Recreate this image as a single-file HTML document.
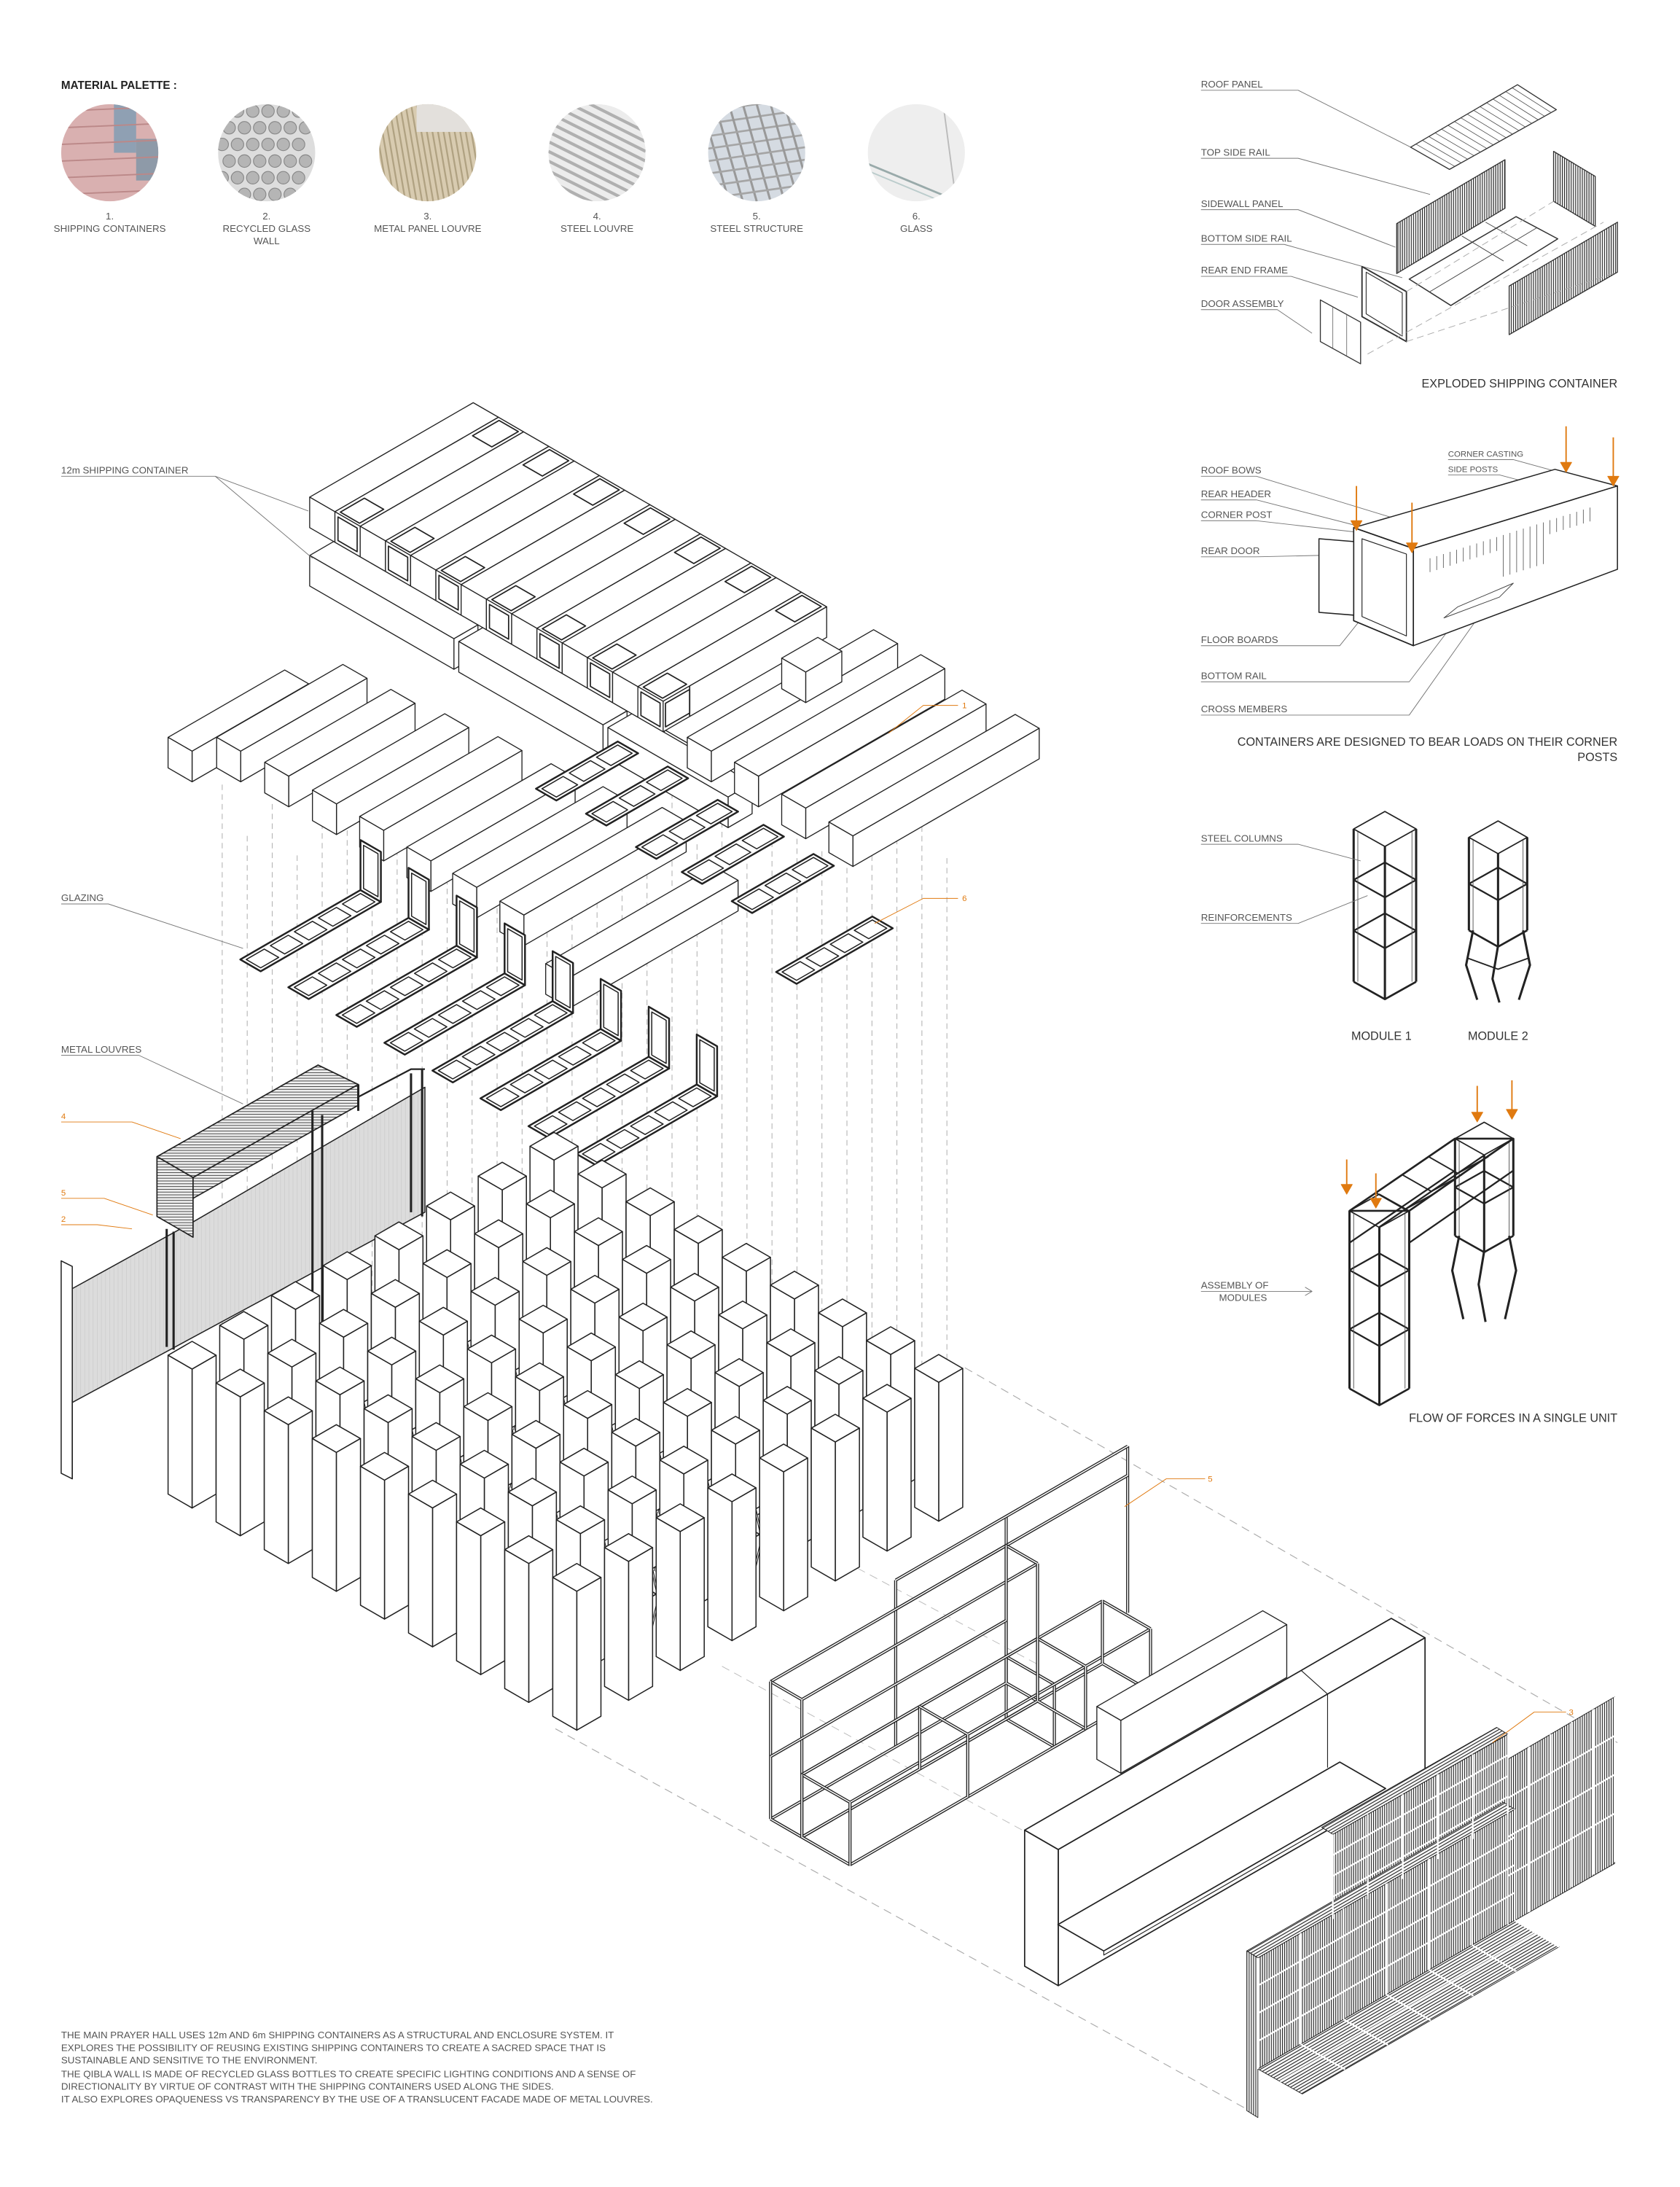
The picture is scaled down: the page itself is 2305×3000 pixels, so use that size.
<!DOCTYPE html>
<html><head><meta charset="utf-8">
<style>
html,body{margin:0;padding:0;background:#fff;}
svg{display:block;}
text{font-family:"Liberation Sans Narrow","Liberation Sans",sans-serif;fill:#555;font-size:7px;}
.t{font-size:8.5px;fill:#333;}
.o{fill:#e07a10;}
</style></head><body>
<svg id="s" xmlns="http://www.w3.org/2000/svg" width="2305" height="3000" viewBox="0 0 1210 1575">
<defs>
<pattern id="vl" width="1.6" height="4" patternUnits="userSpaceOnUse"><rect width="1.6" height="4" fill="#fff"/><line x1="0.5" y1="0" x2="0.5" y2="4" stroke="#222" stroke-width="0.6"/></pattern>
<pattern id="dl" width="2" height="2" patternUnits="userSpaceOnUse" patternTransform="rotate(-30)"><rect width="2" height="2" fill="#fff"/><line x1="0" y1="0.5" x2="2" y2="0.5" stroke="#222" stroke-width="0.6"/></pattern>
<pattern id="hl" width="4" height="2" patternUnits="userSpaceOnUse"><rect width="4" height="2" fill="#eee"/><line x1="0" y1="0.5" x2="4" y2="0.5" stroke="#444" stroke-width="0.5"/></pattern>
<pattern id="gl" width="3" height="8" patternUnits="userSpaceOnUse"><rect width="3" height="8" fill="#dcdcdc"/><line x1="1" y1="0" x2="1" y2="8" stroke="#ccc" stroke-width="0.4"/></pattern>
<clipPath id="c1"><circle cx="79" cy="110" r="35"/></clipPath>
<clipPath id="c2"><circle cx="192" cy="110" r="35"/></clipPath>
<clipPath id="c3"><circle cx="308" cy="110" r="35"/></clipPath>
<clipPath id="c4"><circle cx="430" cy="110" r="35"/></clipPath>
<clipPath id="c5"><circle cx="545" cy="110" r="35"/></clipPath>
<clipPath id="c6"><circle cx="660" cy="110" r="35"/></clipPath>
</defs>
<rect width="1210" height="1575" fill="#fff"/>
<g id="pal"></g>
<g id="g"></g>

<text x="44" y="64" style="font-weight:bold;fill:#222;font-size:8px">MATERIAL PALETTE :</text>
<g text-anchor="middle">
<text x="79" y="158">1.</text><text x="79" y="167">SHIPPING CONTAINERS</text>
<text x="192" y="158">2.</text><text x="192" y="167">RECYCLED GLASS</text><text x="192" y="176">WALL</text>
<text x="308" y="158">3.</text><text x="308" y="167">METAL PANEL LOUVRE</text>
<text x="430" y="158">4.</text><text x="430" y="167">STEEL LOUVRE</text>
<text x="545" y="158">5.</text><text x="545" y="167">STEEL STRUCTURE</text>
<text x="660" y="158">6.</text><text x="660" y="167">GLASS</text>
</g>

<text x="865" y="63">ROOF PANEL</text>
<text x="865" y="112">TOP SIDE RAIL</text>
<text x="865" y="149">SIDEWALL PANEL</text>
<text x="865" y="174">BOTTOM SIDE RAIL</text>
<text x="865" y="197">REAR END FRAME</text>
<text x="865" y="221">DOOR ASSEMBLY</text>
<text class="t" x="1165" y="279" text-anchor="end">EXPLODED SHIPPING CONTAINER</text>

<text x="1043" y="329" style="font-size:6px">CORNER CASTING</text>
<text x="1043" y="340" style="font-size:6px">SIDE POSTS</text>
<text x="865" y="341">ROOF BOWS</text>
<text x="865" y="358">REAR HEADER</text>
<text x="865" y="373">CORNER POST</text>
<text x="865" y="399">REAR DOOR</text>
<text x="865" y="463">FLOOR BOARDS</text>
<text x="865" y="489">BOTTOM RAIL</text>
<text x="865" y="513">CROSS MEMBERS</text>
<text class="t" x="1165" y="537" text-anchor="end">CONTAINERS ARE DESIGNED TO BEAR LOADS ON THEIR CORNER</text>
<text class="t" x="1165" y="548" text-anchor="end">POSTS</text>

<text x="865" y="606">STEEL COLUMNS</text>
<text x="865" y="663">REINFORCEMENTS</text>
<text class="t" x="995" y="749" text-anchor="middle">MODULE 1</text>
<text class="t" x="1079" y="749" text-anchor="middle">MODULE 2</text>
<text x="865" y="928">ASSEMBLY OF</text>
<text x="878" y="937">MODULES</text>
<text class="t" x="1165" y="1024" text-anchor="end">FLOW OF FORCES IN A SINGLE UNIT</text>

<text x="44" y="341">12m SHIPPING CONTAINER</text>
<text x="44" y="649">GLAZING</text>
<text x="44" y="758">METAL LOUVRES</text>
<text class="o" x="44" y="806" style="font-size:6px">4</text>
<text class="o" x="44" y="861" style="font-size:6px">5</text>
<text class="o" x="44" y="880" style="font-size:6px">2</text>
<text class="o" x="693" y="510" style="font-size:6px">1</text>
<text class="o" x="693" y="649" style="font-size:6px">6</text>
<text class="o" x="870" y="1067" style="font-size:6px">5</text>
<text class="o" x="1130" y="1235" style="font-size:6px">3</text>

<g style="font-size:6.6px">
<text x="44" y="1468">THE MAIN PRAYER HALL USES 12m AND 6m SHIPPING CONTAINERS AS A STRUCTURAL AND ENCLOSURE SYSTEM. IT</text>
<text x="44" y="1477">EXPLORES THE POSSIBILITY OF REUSING EXISTING SHIPPING CONTAINERS TO CREATE A SACRED SPACE THAT IS</text>
<text x="44" y="1486">SUSTAINABLE AND SENSITIVE TO THE ENVIRONMENT.</text>
<text x="44" y="1496">THE QIBLA WALL IS MADE OF RECYCLED GLASS BOTTLES TO CREATE SPECIFIC LIGHTING CONDITIONS AND A SENSE OF</text>
<text x="44" y="1505">DIRECTIONALITY BY VIRTUE OF CONTRAST WITH THE SHIPPING CONTAINERS USED ALONG THE SIDES.</text>
<text x="44" y="1514">IT ALSO EXPLORES OPAQUENESS VS TRANSPARENCY BY THE USE OF A TRANSLUCENT FACADE MADE OF METAL LOUVRES.</text>
</g>
</svg>
<script>
const NS="http://www.w3.org/2000/svg";
const G=document.getElementById('g'), PAL=document.getElementById('pal');
function el(t,a,p){const e=document.createElementNS(NS,t);for(const k in a)e.setAttribute(k,a[k]);(p||G).appendChild(e);return e;}
function pts(a){return a.map(p=>p[0].toFixed(1)+','+p[1].toFixed(1)).join(' ');}
function poly(a,fill,stroke,sw,p){return el('polygon',{points:pts(a),fill:fill||'#fff',stroke:stroke||'#222','stroke-width':sw||0.7,'stroke-linejoin':'round'},p);}
function pl(a,stroke,sw,dash){const o={points:pts(a),fill:'none',stroke:stroke||'#222','stroke-width':sw||0.7,'stroke-linejoin':'round'};if(dash)o['stroke-dasharray']=dash;return el('polyline',o);}
function ln(x1,y1,x2,y2,s,w,d){return pl([[x1,y1],[x2,y2]],s,w,d);}
function Pf(ox,oy){return (u,v,h)=>[ox+0.866*(u+v),oy-0.5*u+0.5*v-(h||0)];}
function B(P,u0,v0,z,L,W,H,sw,f){f=f||'#fff';sw=sw||0.7;
 poly([P(u0,v0,z+H),P(u0+L,v0,z+H),P(u0+L,v0+W,z+H),P(u0,v0+W,z+H)],f,null,sw);
 poly([P(u0,v0+W,z),P(u0+L,v0+W,z),P(u0+L,v0+W,z+H),P(u0,v0+W,z+H)],f,null,sw);
 poly([P(u0,v0,z),P(u0,v0+W,z),P(u0,v0+W,z+H),P(u0,v0,z+H)],f,null,sw);}
function box(ox,oy,L,W,H,z,f,sw){const P=Pf(ox,oy);B(P,0,0,z||0,L,W,H,sw,f);return P;}
function tube(a,b){pl([a,b],'#222',2.2);pl([a,b],'#fff',0.8);}
function wire(P,u0,u1,v0,v1,h0,h1){
 const E=[[[u0,v0,h0],[u1,v0,h0]],[[u0,v1,h0],[u1,v1,h0]],[[u0,v0,h1],[u1,v0,h1]],[[u0,v1,h1],[u1,v1,h1]],
 [[u0,v0,h0],[u0,v1,h0]],[[u1,v0,h0],[u1,v1,h0]],[[u0,v0,h1],[u0,v1,h1]],[[u1,v0,h1],[u1,v1,h1]],
 [[u0,v0,h0],[u0,v0,h1]],[[u1,v0,h0],[u1,v0,h1]],[[u0,v1,h0],[u0,v1,h1]],[[u1,v1,h0],[u1,v1,h1]]];
 E.forEach(e=>tube(P(...e[0]),P(...e[1])));}

/* palette */
(function(){
 let g=el('g',{'clip-path':'url(#c1)'},PAL);
 el('rect',{x:44,y:75,width:70,height:70,fill:'#d9b0b0'},g);
 el('rect',{x:82,y:75,width:16,height:35,fill:'#8fa0b3'},g);el('rect',{x:98,y:100,width:16,height:30,fill:'#8e9aa8'},g);
 for(let y=80;y<145;y+=12)el('line',{x1:44,y1:y,x2:114,y2:y-3,stroke:'#b88',"stroke-width":1},g);
 g=el('g',{'clip-path':'url(#c2)'},PAL);el('rect',{x:157,y:75,width:70,height:70,fill:'#ddd'},g);
 for(let r=0;r<6;r++)for(let c=0;c<6;c++)el('circle',{cx:160+c*11+(r%2)*5,cy:80+r*12,r:4.5,fill:'#b5b5b5',stroke:'#888','stroke-width':0.6},g);
 g=el('g',{'clip-path':'url(#c3)'},PAL);el('rect',{x:273,y:75,width:70,height:70,fill:'#d8cbb0'},g);
 for(let x=268;x<350;x+=4)el('line',{x1:x,y1:75,x2:x+12,y2:145,stroke:'#b0a282','stroke-width':1.2},g);
 el('rect',{x:300,y:75,width:43,height:20,fill:'#e3e0dc'},g);
 g=el('g',{'clip-path':'url(#c4)'},PAL);el('rect',{x:395,y:75,width:70,height:70,fill:'#ececec'},g);
 for(let y=60;y<170;y+=7)el('line',{x1:395,y1:y,x2:465,y2:y+35,stroke:'#b0b0b0','stroke-width':2.2},g);
 g=el('g',{'clip-path':'url(#c5)'},PAL);el('rect',{x:510,y:75,width:70,height:70,fill:'#d5dbe2'},g);
 for(let i=0;i<8;i++){el('line',{x1:505+i*10,y1:75,x2:525+i*10,y2:145,stroke:'#999','stroke-width':1.6},g);el('line',{x1:510,y1:80+i*9,x2:580,y2:70+i*9,stroke:'#a5a5a5','stroke-width':1.4},g);}
 g=el('g',{'clip-path':'url(#c6)'},PAL);el('rect',{x:625,y:75,width:70,height:70,fill:'#eeeeee'},g);
 el('line',{x1:625,y1:118,x2:690,y2:145,stroke:'#9aa','stroke-width':1.5},g);el('line',{x1:625,y1:123,x2:690,y2:150,stroke:'#bcc','stroke-width':1},g);
 el('line',{x1:680,y1:80,x2:688,y2:140,stroke:'#bbb','stroke-width':1},g);
})();

/* dashed projection verticals */
[160,178,196,214,232,250,268,286,304,322,340,358,376,394,412,430,448,466,484,502,520,538,556,574,592,610,628,646,664,682].forEach((x,i)=>{
 ln(x,565+((i*37)%60),x,985+((i*13)%40),'#aaa',0.5,'4 3');});
ln(695,985,1165,1255,'#aaa',0.6,'6 4');ln(400,1245,900,1520,'#aaa',0.6,'6 4');
ln(600,1120,750,1200,'#bbb',0.5,'6 4');ln(520,1200,740,1320,'#bbb',0.5,'6 4');

/* top stack */
(function(){
 const Pl=Pf(223,422);
 // hidden lower layer mass (drawn first)
 for(let j=0;j<14;j++){B(Pl,22,21*j,0,114,21,22);}
 B(Pl,0,0,0,20,120,22);B(Pl,0,124,0,20,120,22);B(Pl,0,248,0,20,100,22);
 const P=Pf(223,380);
 for(let j=0;j<14;j++){const v=21*j;
  B(P,0,v,0,136,21,22);
  if(j%2==1){
   // open frame bays at both ends
   poly([P(2,v+2.5,22),P(22,v+2.5,22),P(22,v+18.5,22),P(2,v+18.5,22)],'#fff','#222',0.9);
   poly([P(112,v+2.5,22),P(134,v+2.5,22),P(134,v+18.5,22),P(112,v+18.5,22)],'#fff','#222',0.9);
   poly([P(2,v+21,2.5),P(22,v+21,2.5),P(22,v+21,19.5),P(2,v+21,19.5)],'#fff','#222',0.9);
   poly([P(0,v+2.5,2.5),P(0,v+18.5,2.5),P(0,v+18.5,19.5),P(0,v+2.5,19.5)],'#fff','#222',0.9);
   pl([P(22,v+21,0),P(22,v+21,22)],'#222',0.9);
  }
 }
})();

/* left row 6m containers */
[[121,553,97],[156,553,105],[190.6,571,105],[225,591,110],[259,610,115],[293,632,120],[326,651,125],[360,671,135],[393,716,140]].forEach(a=>box(a[0],a[1],a[2],20,22));
function ladder(ox,oy,L,W,rise,n){const P=Pf(ox,oy);n=n||5;
 poly([P(0,0,0),P(L,0,0),P(L,W,0),P(0,W,0)],'#fff','#222',1.3);
 for(let i=0;i<n;i++){const a=i*L/n+2.5,b=(i+1)*L/n-2.5;poly([P(a,2.5,0),P(b,2.5,0),P(b,W-2.5,0),P(a,W-2.5,0)],'#fff','#222',0.8);}
 if(rise){poly([P(L,0,0),P(L,W,0),P(L,W,rise),P(L,0,rise)],'#fff','#222',1.3);poly([P(L,2.5,2.5),P(L,W-2.5,2.5),P(L,W-2.5,rise-2.5),P(L,2.5,rise-2.5)],'none','#222',0.8);}
}
[[386,568],[422,586],[458,610],[491,628],[527,649]].forEach(a=>ladder(a[0],a[1],68,17,0,3));
ladder(559,700,80,17,0,4);
[[495,553,155],[529,571,155],[563,594,150],[597,614,155]].forEach(a=>box(a[0],a[1],a[2],20,22));
box(563,496,30,20,22);
for(let k=0;k<8;k++){ladder(173+k*34.6,691+k*20,100,17,36,5);}

/* louvre wall */
(function(){
 poly([[139,880],[306,783],[306,873],[52,1010],[52,928]],'url(#gl)','#222',0.8);
 poly([[44,908],[52,912],[52,1065],[44,1061]],'#fff','#222',0.8);
 pl([[52,1065],[52,1008]],'#222',0.8);
 poly([[113,833],[229,767],[258,781],[139,848]],'url(#hl)','#222',0.9);
 poly([[113,833],[139,848],[139,891],[113,876]],'url(#hl)','#222',0.9);
 poly([[139,848],[258,781],[258,796],[139,863]],'url(#hl)','#222',0.9);
 pl([[258,781],[258,800]],'#222',1.6);
 pl([[225,800],[225,955]],'#222',1.6);pl([[232,803],[232,960]],'#222',1.6);
 pl([[296,773],[296,873]],'#222',1.6);pl([[304,770],[304,876]],'#222',1.6);
 pl([[258,790],[296,770],[306,770]],'#222',1.2);
 pl([[120,885],[120,970]],'#222',1.6);pl([[125,887],[125,972]],'#222',1.6);
})();

/* columns grid */
(function(){
 const P=Pf(121,1076),items=[];
 for(let i=0;i<8;i++)for(let j=0;j<9;j++)items.push([i,j]);
 items.sort((a,b)=>(a[1]*40-a[0]*43)-(b[1]*40-b[0]*43));
 items.forEach(([i,j])=>{
  const u=i*43,v=j*40;
  const mod=((i==2||i==4)&&j>=1&&j<=7)||(i==3&&(j==3||j==6));
  if(mod){
   [[2,2],[18,2],[2,18],[18,18]].forEach(([a,b])=>{const p1=P(u+a,v+b,0),p2=P(u+a+(a<10?-3:3),v+b+(b<10?-3:3),22),p3=P(u+a,v+b,45);pl([p1,p2,p3],'#222',1.6);pl([p1,p2,p3],'#fff',0.5);});
   pl([P(u,v,25),P(u+20,v,25),P(u+20,v+20,25),P(u,v+20,25),P(u,v,25)],'#222',0.9);
   B(P,u,v,45,20,20,55,0.8);
  } else B(P,u,v,0,20,20,100,0.8);
 });
})();

/* steel frame */
(function(){const P=Pf(555,1310);
 [104,196,297].forEach(u=>tube(P(u,0,0),P(u,0,120)));
 tube(P(104,0,120),P(297,0,120));tube(P(104,0,99),P(297,0,99));
 wire(P,170,250,26,66,0,45);
 wire(P,0,196,0,26,0,99);
 tube(P(0,0,45),P(196,0,45));tube(P(0,26,45),P(196,26,45));
 wire(P,0,196,26,66,0,45);
 tube(P(98,26,0),P(98,26,45));tube(P(98,66,0),P(98,66,45));tube(P(98,26,45),P(98,66,45));
})();

/* qibla wall */
(function(){
 box(790,1267,138,20,38);
 const P=Pf(738,1416);B(P,0,0,0,305,28,98,0.9);
 pl([P(224,28,98),P(224,28,45)],'#222',0.6);pl([P(224,28,98),P(230,0,98)],'#222',0.6);
 poly([[762,1386],[965,1269],[998,1288],[795,1405]],'#fff','#222',0.9);
 pl([[795,1405],[795,1408],[998,1291]],'#222',0.6);
})();

/* glass brick louvre grid */
(function(){
 poly([[1086,1267],[1163,1222],[1163,1342],[1086,1386]],'url(#vl)','#222',0.5);
 poly([[960,1321],[1086,1249],[1086,1310],[960,1382]],'url(#vl)','#222',0.5);
 poly([[952,1316],[1078,1244],[1086,1249],[960,1321]],'url(#dl)','#222',0.5);
 poly([[906,1410],[1091,1303],[1091,1383],[906,1490]],'url(#vl)','#222',0.5);
 poly([[898,1405],[1083,1298],[1091,1303],[906,1410]],'url(#dl)','#222',0.5);
 poly([[898,1405],[906,1410],[906,1525],[898,1520]],'url(#vl)','#222',0.5);
 poly([[906,1490],[1091,1383],[1123,1402],[938,1508]],'url(#dl)','#222',0.5);
 for(let k=1;k<4;k++){ln(906,1410+k*20,1091,1303+k*20,'#fff',1.2);ln(960,1321+k*15,1086,1249+k*15,'#fff',1.2);ln(1086,1267+k*28,1163,1222+k*28,'#fff',1.2);}
 for(let t=0;t<=1.001;t+=1/6){const x=906+185*t,y=1410-107*t;ln(x,y,x,y+80,'#fff',1.2);}
 for(let t=0;t<=1.001;t+=0.2){ln(960+126*t,1321-72*t,960+126*t,1382-72*t,'#fff',1.2);ln(1086+77*t,1267-45*t,1086+77*t,1386-45*t,'#fff',1.2);}
 for(let t=1/6;t<1;t+=1/6){ln(906+185*t,1490-107*t,938+185*t,1508-106*t,'#fff',1.2);}
 ln(922,1499,1107,1392,'#fff',1.2);
})();

/* leader lines */
function lead(a,c){pl(a,c||'#777',0.5);}
lead([[44,343],[155,343],[222,368]]);lead([[155,343],[225,402]]);
lead([[44,651],[78,651],[175,683]]);
lead([[44,760],[100,760],[175,795]]);
lead([[44,808],[95,808],[130,820]],'#e07a10');lead([[44,863],[75,863],[110,875]],'#e07a10');lead([[44,882],[70,882],[95,885]],'#e07a10');
lead([[690,508],[665,508],[640,528]],'#e07a10');lead([[690,647],[665,647],[630,665]],'#e07a10');
lead([[868,1065],[840,1065],[810,1085]],'#e07a10');lead([[1128,1233],[1105,1233],[1075,1255]],'#e07a10');

/* exploded container */
(function(){
 lead([[865,65],[935,65],[1024,110]]);lead([[865,114],[935,114],[1030,140]]);lead([[865,151],[935,151],[1005,178]]);
 lead([[865,176],[925,176],[1010,200]]);lead([[865,199],[930,199],[978,214]]);lead([[865,223],[920,223],[945,240]]);
 poly([[1016,106],[1093,61],[1121,79],[1044,122]],'#fff','#333',0.7);
 for(let t=0.05;t<1;t+=0.06){const a=[1016+77*t,106-45*t],b=[1044+77*t,122-43*t];ln(a[0],a[1],b[0],b[1],'#444',0.4);}
 poly([[1006,161],[1084,115],[1084,150],[1006,197]],'url(#vl)','#333',0.7);
 poly([[1119,109],[1149,127],[1149,163],[1119,145]],'url(#vl)','#333',0.7);
 poly([[1015,201],[1092,156],[1122,172],[1045,220]],'#fff','#333',0.8);
 ln(1030,210,1107,164,'#444',0.5);ln(1053,170,1083,188,'#444',0.5);ln(1070,160,1100,177,'#444',0.5);
 poly([[1087,206],[1165,160],[1165,196],[1087,241]],'url(#vl)','#333',0.7);
 poly([[981,192],[1013,210],[1013,246],[981,228]],'none','#333',1);poly([[984,196],[1010,211],[1010,242],[984,226]],'none','#333',0.6);
 poly([[951,216],[980,232],[980,262],[951,246]],'#fff','#333',0.7);
 ln(960,221,960,251,'#555',0.4);ln(970,226,970,256,'#555',0.4);
 ln(985,255,1155,160,'#aaa',0.5,'5 3');ln(1013,246,1165,196,'#aaa',0.5,'5 3');ln(1013,210,1119,145,'#aaa',0.5,'5 3');
})();

function arr(x,y1,y2){ln(x,y1,x,y2-6,'#e07a10',1);poly([[x-4,y2-7],[x+4,y2-7],[x,y2]],'#e07a10','#e07a10',0.5);}
(function(){
 lead([[865,343],[905,343],[1010,375]]);lead([[865,360],[905,360],[975,378]]);lead([[865,375],[905,375],[975,383]]);
 lead([[865,401],[905,401],[950,400]]);lead([[865,465],[965,465],[985,440]]);lead([[865,491],[1015,491],[1050,445]]);
 lead([[865,515],[1015,515],[1075,430]]);lead([[1043,331],[1090,331],[1130,342]]);lead([[1043,342],[1080,342],[1110,350]]);
 poly([[975,380],[1120,338],[1165,350],[1018,395]],'#fff','#222',0.8);
 poly([[1018,395],[1165,350],[1165,410],[1018,465]],'#fff','#222',0.8);
 poly([[975,380],[1018,395],[1018,465],[975,447]],'#fff','#222',0.9);
 poly([[981,388],[1013,399],[1013,458],[981,444]],'none','#222',0.6);
 for(let t=0;t<1;t+=0.04)ln(1030+120*t,402-38*t,1030+120*t,412-38*t+(t>0.4&&t<0.7?20:0),'#444',0.4);
 poly([[1040,445],[1080,430],[1090,420],[1050,437]],'#fff','#444',0.5);
 poly([[950,388],[975,390],[975,443],[950,441]],'#fff','#222',0.8);
 arr(977,350,382);arr(1017,362,398);arr(1128,307,340);arr(1162,315,350);
})();

function column(x,top,bot,w){const m=x+w/2,d=w*0.28;
 poly([[x,top],[m,top-d],[x+w,top],[m,top+d]],'#fff','#222',0.9);
 pl([[x,top],[x,bot]],'#222',1.6);pl([[x+w,top],[x+w,bot]],'#222',1.6);pl([[m,top+d],[m,bot+d]],'#222',1.6);
 pl([[x,bot],[m,bot+d],[x+w,bot]],'#222',1.4);
 const n=Math.round((bot-top)/38);for(let i=1;i<n;i++){const y=top+(bot-top)*i/n;pl([[x,y],[m,y+d],[x+w,y],[m,y-d],[x,y]],'#222',1.2);}
 pl([[x+3,top+2],[x+3,bot]],'#555',0.5);pl([[x+w-3,top+2],[x+w-3,bot]],'#555',0.5);}
column(975,597,707,45);
lead([[865,608],[935,608],[980,620]]);lead([[865,665],[935,665],[985,645]]);
(function(){const x=1058,w=42,m=x+w/2;column(x,603,670,w);
 [[x+3,670,x-2,695,x+6,720],[m,681,m-4,705,m+1,722],[x+w-3,670,x+w+2,695,x+w-6,720]].forEach(a=>{pl([[a[0],a[1]],[a[2],a[3]],[a[4],a[5]]],'#222',1.6);});
 pl([[x-1,690],[m,698],[x+w+1,690]],'#222',1);})();
(function(){
 column(972,872,1000,43);
 const x=1048,w=42,m=x+w/2;column(x,820,890,w);
 [[x+3,890,x-2,915,x+6,950],[m,901,m-4,925,m+1,952],[x+w-3,890,x+w+2,915,x+w-6,950]].forEach(a=>{pl([[a[0],a[1]],[a[2],a[3]],[a[4],a[5]]],'#222',1.6);});
 poly([[972,872],[1048,820],[1090,820],[1015,872]],'none','#222',1.4);
 pl([[993,884],[1069,832]],'#222',1.2);pl([[972,895],[1048,843]],'#222',1.2);pl([[1015,895],[1090,843]],'#222',1.2);
 for(let t=0.25;t<1;t+=0.25){pl([[972+76*t,872-52*t],[993+76*t,884-52*t],[1015+76*t,872-52*t]],'#222',1);}
 arr(970,835,860);arr(991,845,870);arr(1064,782,808);arr(1089,778,806);
 lead([[865,930],[945,930]]);pl([[940,927],[945,930],[940,933]],'#777',0.5);
})();
</script>
</body></html>
